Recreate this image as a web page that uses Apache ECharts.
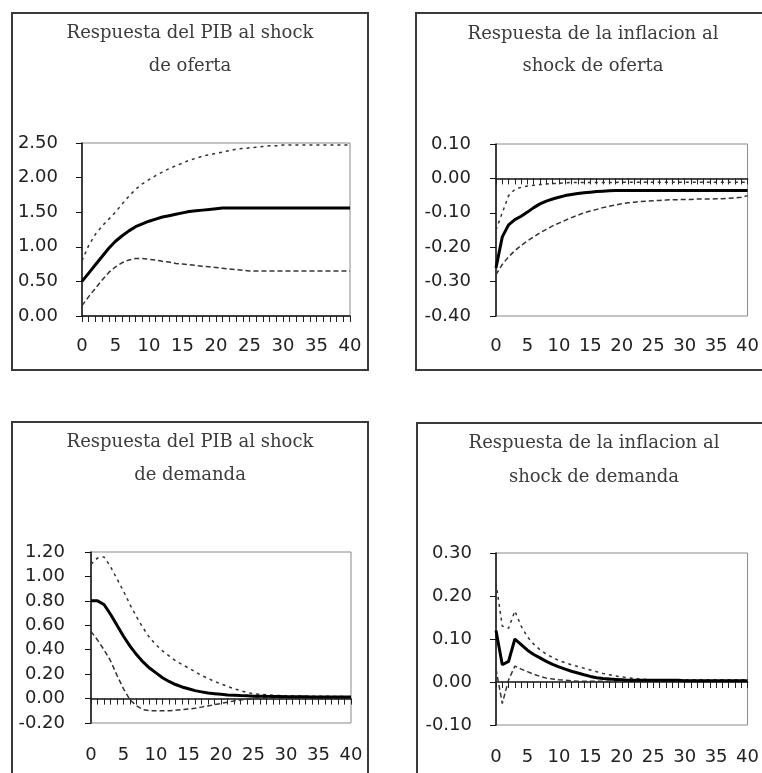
<!DOCTYPE html>
<html>
<head>
<meta charset="utf-8">
<script src="https://cdn.jsdelivr.net/npm/echarts@6/dist/echarts.min.js"></script>
<style>
  html,body{margin:0;padding:0;background:#fff;}
  #chart{width:762px;height:773px;}
</style>
</head>
<body>
<div id="chart"></div>
<script>
// periodos 0..40
let periods = [];
for(let i=0;i<=40;i++) periods.push(String(i));

// PIB - shock de oferta
let pibOfMid = [0.50,0.62,0.74,0.86,0.98,1.08,1.16,1.23,1.29,1.33,1.37,1.40,1.43,1.45,1.47,1.49,1.51,1.52,1.53,1.54,1.55,
  1.56,1.56,1.56,1.56,1.56,1.56,1.56,1.56,1.56,1.56,1.56,1.56,1.56,1.56,1.56,1.56,1.56,1.56,1.56,1.56];
let pibOfUp = [0.80,1.02,1.18,1.30,1.40,1.50,1.62,1.73,1.83,1.91,1.97,2.03,2.08,2.13,2.17,2.21,2.25,2.28,2.31,2.33,2.35,
  2.37,2.39,2.41,2.42,2.43,2.44,2.45,2.46,2.46,2.47,2.47,2.47,2.47,2.47,2.47,2.47,2.47,2.47,2.47,2.47];
let pibOfLow = [0.15,0.28,0.40,0.52,0.63,0.71,0.77,0.81,0.83,0.83,0.82,0.81,0.79,0.78,0.76,0.75,0.74,0.73,0.72,0.71,0.70,
  0.69,0.68,0.67,0.66,0.65,0.65,0.65,0.65,0.65,0.65,0.65,0.65,0.65,0.65,0.65,0.65,0.65,0.65,0.65,0.65];

// inflacion - shock de oferta
let infOfMid = [-0.26,-0.17,-0.135,-0.12,-0.11,-0.098,-0.085,-0.074,-0.066,-0.06,-0.055,-0.05,-0.047,-0.044,-0.042,-0.04,-0.038,-0.037,-0.036,-0.035,-0.035,
  -0.035,-0.035,-0.035,-0.035,-0.035,-0.035,-0.035,-0.035,-0.035,-0.035,-0.035,-0.035,-0.035,-0.035,-0.035,-0.035,-0.035,-0.035,-0.035,-0.035];
let infOfUp = [-0.15,-0.10,-0.05,-0.032,-0.026,-0.022,-0.02,-0.018,-0.016,-0.015,-0.014,-0.013,-0.012,-0.012,-0.012,-0.012,-0.012,-0.012,-0.012,-0.012,-0.011,
  -0.011,-0.011,-0.011,-0.011,-0.011,-0.011,-0.011,-0.011,-0.011,-0.011,-0.011,-0.011,-0.011,-0.011,-0.011,-0.011,-0.011,-0.011,-0.011,-0.011];
let infOfLow = [-0.28,-0.25,-0.228,-0.21,-0.195,-0.182,-0.17,-0.158,-0.148,-0.138,-0.13,-0.122,-0.114,-0.107,-0.10,-0.095,-0.09,-0.085,-0.081,-0.077,-0.074,
  -0.071,-0.069,-0.067,-0.066,-0.065,-0.064,-0.063,-0.062,-0.062,-0.061,-0.061,-0.06,-0.06,-0.06,-0.059,-0.059,-0.058,-0.057,-0.055,-0.05];

// PIB - shock de demanda
let pibDeMid = [0.80,0.80,0.77,0.69,0.60,0.51,0.43,0.36,0.30,0.25,0.21,0.17,0.14,0.115,0.095,0.08,0.065,0.055,0.045,0.04,0.035,
  0.03,0.028,0.025,0.023,0.02,0.02,0.018,0.017,0.016,0.015,0.015,0.014,0.014,0.013,0.013,0.013,0.012,0.012,0.012,0.012];
let pibDeUp = [1.10,1.15,1.16,1.08,0.98,0.88,0.77,0.67,0.58,0.50,0.44,0.39,0.35,0.31,0.28,0.25,0.22,0.19,0.165,0.14,0.12,
  0.10,0.08,0.065,0.05,0.04,0.035,0.03,0.027,0.025,0.023,0.022,0.021,0.02,0.02,0.02,0.019,0.018,0.017,0.016,0.015];
let pibDeLow = [0.55,0.48,0.40,0.31,0.19,0.08,-0.01,-0.06,-0.09,-0.10,-0.10,-0.10,-0.10,-0.095,-0.09,-0.085,-0.08,-0.07,-0.06,-0.05,-0.04,
  -0.03,-0.02,-0.012,-0.005,0.0,0.003,0.005,0.005,0.005,0.005,0.005,0.005,0.005,0.005,0.005,0.005,0.005,0.005,0.005,0.005];

// inflacion - shock de demanda
let infDeMid = [0.12,0.04,0.048,0.10,0.087,0.074,0.064,0.056,0.048,0.041,0.035,0.03,0.025,0.021,0.017,0.013,0.01,0.008,0.007,0.006,0.005,
  0.004,0.004,0.004,0.004,0.004,0.004,0.004,0.004,0.004,0.003,0.003,0.003,0.003,0.003,0.003,0.003,0.003,0.003,0.003,0.003];
let infDeUp = [0.23,0.13,0.125,0.165,0.13,0.105,0.088,0.075,0.065,0.057,0.05,0.045,0.04,0.036,0.032,0.028,0.024,0.02,0.017,0.014,0.012,
  0.01,0.008,0.007,0.006,0.005,0.005,0.005,0.005,0.005,0.005,0.005,0.005,0.005,0.005,0.005,0.005,0.005,0.005,0.005,0.005];
let infDeLow = [0.03,-0.05,0.005,0.037,0.03,0.024,0.018,0.013,0.009,0.007,0.005,0.004,0.003,0.002,0.002,0.002,0.002,0.002,0.002,0.002,0.002,
  0.002,0.002,0.002,0.002,0.002,0.002,0.002,0.002,0.002,0.002,0.002,0.002,0.002,0.002,0.002,0.002,0.002,0.002,0.002,0.002];

let titles = [
  ['Respuesta del PIB al shock','de oferta'],
  ['Respuesta de la inflacion al','shock de oferta'],
  ['Respuesta del PIB al shock','de demanda'],
  ['Respuesta de la inflacion al','shock de demanda']
];
let yMin = [0, -0.4, -0.2, -0.1];
let yMax = [2.5, 0.1, 1.2, 0.3];
let yStep = [0.5, 0.1, 0.2, 0.1];
let panels = [
  [pibOfMid,pibOfUp,pibOfLow],
  [infOfMid,infOfUp,infOfLow],
  [pibDeMid,pibDeUp,pibDeLow],
  [infDeMid,infDeUp,infDeLow]
];

// layout
let grids = [
  {left:82, width:268, top:143, height:173},
  {left:496, width:261, top:144, height:172},
  {left:91, width:260, top:552, height:171},
  {left:496, width:261, top:553, height:172}
];
let frames = [[12,13,356,357],[416,13,400,357],[12,422,356,400],[417,423,400,400]];
let titlePos = [[190,33,66],[593,34,66],[190,442,475],[594,443,477]];
let xMargin = [21,21,23,23];
let yMargin = [24,25,26,24];

const serif = '"DejaVu Serif", "Liberation Serif", serif';
const sans = '"DejaVu Sans", "Liberation Sans", sans-serif';

let chart = echarts.init(document.getElementById('chart'));

let graphic = [];
frames.forEach(f=>{
  graphic.push({type:'rect', silent:true, shape:{x:f[0],y:f[1],width:f[2],height:f[3]},
    style:{fill:null, stroke:'#3a3a3a', lineWidth:2}});
});
titlePos.forEach((p,i)=>{
  graphic.push({type:'text', silent:true, style:{text:titles[i][0], x:p[0], y:p[1], align:'center', verticalAlign:'middle',
    font:'18px '+serif, fill:'#3c3c3c'}});
  graphic.push({type:'text', silent:true, style:{text:titles[i][1], x:p[0], y:p[2], align:'center', verticalAlign:'middle',
    font:'18px '+serif, fill:'#3c3c3c'}});
});

let xAxis = [], yAxis = [], series = [];
for(let i=0;i<4;i++){
  xAxis.push({
    gridIndex:i, type:'category', data:periods, boundaryGap:false, position:'bottom',
    axisLine:{onZero:true, lineStyle:{color:'#111', width:1.5}},
    axisTick:{interval:0, length:6, lineStyle:{color:'#222'}},
    axisLabel:{show:false}, splitLine:{show:false}
  });
  xAxis.push({
    gridIndex:i, type:'category', data:periods, boundaryGap:false, position:'bottom',
    axisLine:{show:false, onZero:false}, axisTick:{show:false},
    axisLabel:{interval:4, margin:xMargin[i], fontFamily:sans, fontSize:18, color:'#222'},
    splitLine:{show:false}
  });
  yAxis.push({
    gridIndex:i, type:'value', min:yMin[i], max:yMax[i], interval:yStep[i],
    axisLine:{show:true, onZero:false, lineStyle:{color:'#111', width:1.5}},
    axisTick:{show:true, length:6, lineStyle:{color:'#111'}},
    splitLine:{show:false},
    axisLabel:{margin:yMargin[i], fontFamily:sans, fontSize:18, color:'#222',
      formatter:v=>(Math.abs(v)<1e-9?0:v).toFixed(2)}
  });
  let d = panels[i];
  series.push({type:'line', xAxisIndex:2*i, yAxisIndex:i, data:d[1], showSymbol:false, z:2,
    lineStyle:{color:'#333', width:1.5, type:[3,4]}});
  series.push({type:'line', xAxisIndex:2*i, yAxisIndex:i, data:d[2], showSymbol:false, z:2,
    lineStyle:{color:'#333', width:1.5, type:[5,3]}});
  series.push({type:'line', xAxisIndex:2*i, yAxisIndex:i, data:d[0], showSymbol:false, z:3,
    lineStyle:{color:'#000', width:3}});
}

chart.setOption({
  animation:false,
  backgroundColor:'#fff',
  grid:grids.map(g=>Object.assign({show:true, borderColor:'#8a8a8a', borderWidth:1, containLabel:false}, g)),
  xAxis:xAxis,
  yAxis:yAxis,
  series:series,
  graphic:graphic
});
</script>
</body>
</html>
